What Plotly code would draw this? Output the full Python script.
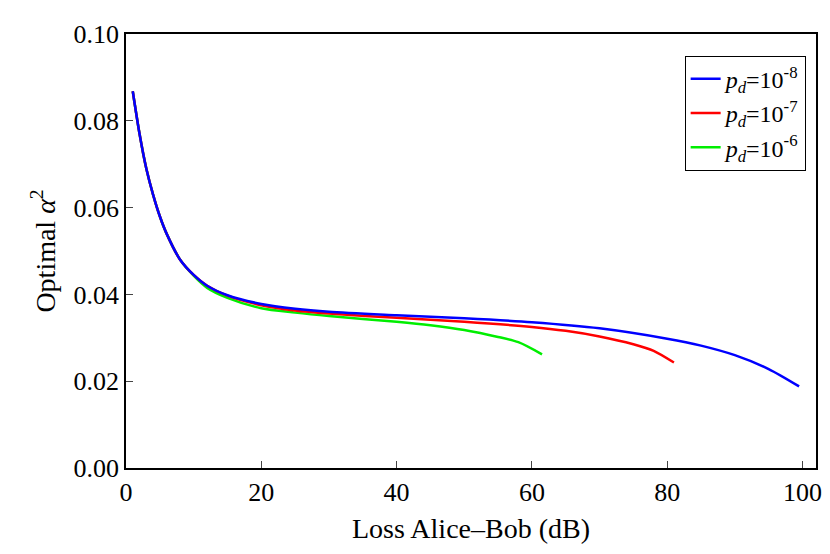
import plotly.graph_objects as go

# loss (dB) and optimal alpha^2 for each dark count probability
x_blue = [1, 2, 3, 4, 5, 6, 8, 10, 12, 15, 20, 25, 30, 40, 50, 60, 70, 80, 85, 90, 95, 99.5]
y_blue = [0.0868, 0.077, 0.069, 0.063, 0.058, 0.054, 0.048, 0.0445, 0.042, 0.0398,
          0.0378, 0.0367, 0.036, 0.0352, 0.0345, 0.0336, 0.0322, 0.0298, 0.0282, 0.026,
          0.0228, 0.0188]
x_red = [1, 2, 3, 4, 5, 6, 8, 10, 12, 15, 20, 25, 30, 40, 50, 60, 65, 70, 75, 78, 81]
y_red = [0.0868, 0.077, 0.069, 0.063, 0.058, 0.054, 0.048, 0.0445, 0.042, 0.0397,
         0.0375, 0.0363, 0.0356, 0.0346, 0.0337, 0.0325, 0.0316, 0.0303, 0.0285, 0.027, 0.0243]
x_green = [1, 2, 3, 4, 5, 6, 8, 10, 12, 15, 20, 25, 30, 40, 45, 50, 55, 58, 61.5]
y_green = [0.0868, 0.077, 0.069, 0.063, 0.058, 0.054, 0.048, 0.0443, 0.0415, 0.0392,
           0.0368, 0.0358, 0.035, 0.0337, 0.0329, 0.0318, 0.0302, 0.029, 0.0262]

names = ['<i>p<sub>d</sub></i>=10<sup>-8</sup>', '<i>p<sub>d</sub></i>=10<sup>-7</sup>',
         '<i>p<sub>d</sub></i>=10<sup>-6</sup>']

fig = go.Figure()
for xs, ys, c, n in [(x_green, y_green, '#00ee00', names[2]),
                     (x_red, y_red, '#ff0000', names[1]),
                     (x_blue, y_blue, '#0000ff', names[0])]:
    fig.add_trace(go.Scatter(x=xs, y=ys, mode='lines', name=n,
                             line=dict(color=c, width=2.5, shape='spline', smoothing=0.8)))

axis = dict(showline=True, linecolor='black', linewidth=1.5, mirror=True,
            ticks='inside', ticklen=7, showgrid=False, zeroline=False,
            tickfont=dict(size=26))
fig.update_layout(
    width=830, height=554, plot_bgcolor='white', paper_bgcolor='white',
    font=dict(family='Liberation Serif', color='black', size=26),
    margin=dict(l=118, r=22, t=20, b=94),
    xaxis=dict(axis, range=[0, 102], dtick=20,
               title=dict(text='Loss Alice\u2013Bob (dB)', font=dict(size=28), standoff=12)),
    yaxis=dict(axis, range=[0, 0.1], dtick=0.02, tickformat='.2f',
               title=dict(text='Optimal <i>\u03b1</i><sup>2</sup>', font=dict(size=28), standoff=10)),
    legend=dict(x=0.985, y=0.95, xanchor='right', yanchor='top', traceorder='reversed',
                bordercolor='black', borderwidth=1, font=dict(size=24)),
)
fig.write_html("out.html")
